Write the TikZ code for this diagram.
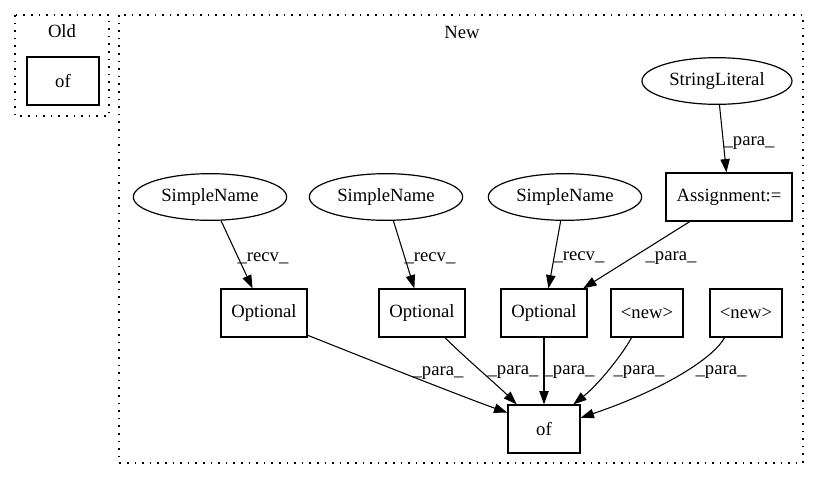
\documentclass[tikz,border=0pt]{standalone}
\usepackage{fontspec}
\setmainfont{Liberation Serif}
\usetikzlibrary{arrows.meta,shapes.geometric}
\begin{document}
\begin{tikzpicture}[x=0.75pt,y=-0.75pt,
  every node/.style={font=\fontsize{14}{16}\selectfont},
  box/.style={draw,line width=0.9pt,rectangle,inner sep=0pt,minimum height=36pt},
  ell/.style={draw,line width=0.9pt,ellipse,inner sep=0pt,minimum width=115pt,minimum height=35pt},
  cluster/.style={line width=0.9pt,dash pattern=on 1.2pt off 4.5pt},
  edge/.style={draw,line width=0.8pt,-{Triangle[length=10pt,width=7pt]}},
  elabel/.style={inner sep=0pt}]
\useasboundingbox (0,0) rectangle (819,480);
% clusters
\draw[cluster] (15,15) rectangle (109,116);
\draw[cluster] (119,15) rectangle (803,463);
\node (oldlbl) at (62,31) {Old};
\node (newlbl) at (462,32) {New};
% Old
\node[box,minimum width=54pt] (ofold) at (63,81) {of};
% New
\node[ell,minimum width=112.5pt] (sl) at (717,81) {StringLiteral};
\node[ell] (sn1) at (210,197) {SimpleName};
\node[ell] (sn2) at (386,197) {SimpleName};
\node[ell] (sn3) at (565,197) {SimpleName};
\node[box,minimum width=94.5pt] (asg) at (729,197) {Assignment:=};
\node[box,minimum width=64.5pt] (opt1) at (264,313) {Optional};
\node[box,minimum width=64.5pt] (opt2) at (422,313) {Optional};
\node[box,minimum width=64.5pt] (opt3) at (544,313) {Optional};
\node[box,minimum width=54pt] (new1) at (647,313) {<new>};
\node[box,minimum width=54pt] (new2) at (746,313) {<new>};
\node[box,minimum width=54pt] (of) at (544,429) {of};
% edges
\draw[edge] (sl) -- (asg);
\draw[edge] (sn1) -- (opt1);
\draw[edge] (sn2) -- (opt2);
\draw[edge] (sn3) -- (opt3);
\draw[edge] (asg) -- (opt3);
\draw[edge] (opt1.-27) .. controls +(40,16) and +(-45,-16) .. (of.156);
\draw[edge] (opt2.-47) .. controls +(20,20) and +(-18,-18) .. (of.138);
\draw[edge] (opt3) -- (of);
\draw[edge] (new1.-122) .. controls +(-10,18) and +(25,-20) .. (of.40);
\draw[edge] (new2.-131) .. controls +(-13,23) and +(77,-26) .. (of.17);
% labels
\node[elabel] (l1) at (749,143) {\_para\_};
\node[elabel] (l2) at (263,258) {\_recv\_};
\node[elabel] (l3) at (430,258) {\_recv\_};
\node[elabel] (l4) at (579,257) {\_recv\_};
\node[elabel] (l5) at (671,258) {\_para\_};
\node[elabel] (l6) at (438,373) {\_para\_};
\node[elabel] (l7) at (513,372) {\_para\_};
\node[elabel] (l8) at (569,372) {\_para\_};
\node[elabel] (l9) at (639,372) {\_para\_};
\node[elabel] (l10) at (721,372) {\_para\_};
\end{tikzpicture}
\end{document}
